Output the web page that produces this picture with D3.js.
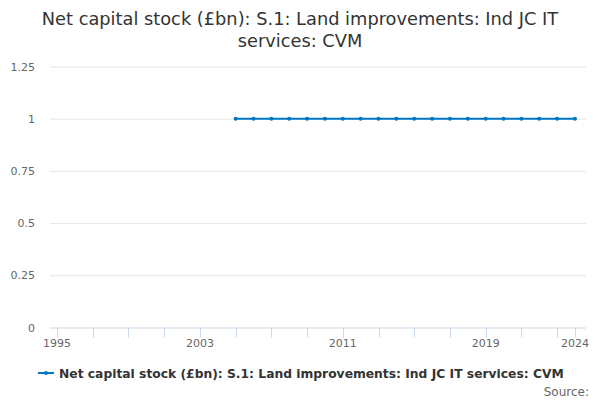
<!DOCTYPE html>
<html><head><meta charset="utf-8">
<script src="https://cdn.jsdelivr.net/npm/d3@7"></script>
<style>body{margin:0;background:#fff;font-family:"DejaVu Sans",sans-serif;}</style>
</head><body>
<svg id="c" width="600" height="400"></svg>
<script>
const years = [2005,2006,2007,2008,2009,2010,2011,2012,2013,2014,2015,2016,2017,2018,2019,2020,2021,2022,2023,2024];
const values = [1,1,1,1,1,1,1,1,1,1,1,1,1,1,1,1,1,1,1,1];
const yTicks = [0,0.25,0.5,0.75,1,1.25];
const xTickYears = [1995,1997,1999,2001,2003,2005,2007,2009,2011,2013,2015,2017,2019,2021,2023,2024];
const xLabelYears = [1995,2003,2011,2019,2024];
const titleLines = ["Net capital stock (£bn): S.1: Land improvements: Ind JC IT", "services: CVM"];
const seriesName = "Net capital stock (£bn): S.1: Land improvements: Ind JC IT services: CVM";

const svg = d3.select("#c");
const plotL = 50, plotR = 586;
const x = d3.scaleLinear().domain([1995,2024]).range([57,575]);
const y = d3.scaleLinear().domain([0,1.25]).range([327.5,66.5]);
const color = "#0077c0";

// title
const t = svg.append("text").attr("x",300).attr("text-anchor","middle")
  .attr("font-size",17.8).attr("fill","#333");
titleLines.forEach((l,i)=>t.append("tspan").attr("x",300).attr("y",25+i*22).text(l));

// grid
svg.append("g").selectAll("line").data(yTicks.filter(d=>d>0)).join("line")
  .attr("x1",plotL).attr("x2",plotR).attr("y1",d=>y(d)+0.5).attr("y2",d=>y(d)+0.5)
  .attr("stroke","#e6e6e6");
svg.append("g").selectAll("text").data(yTicks).join("text")
  .attr("x",35).attr("y",d=>y(d)+4).attr("text-anchor","end")
  .attr("font-size",11).attr("fill","#666").text(d=>d);

// x axis
svg.append("line").attr("x1",plotL).attr("x2",plotR).attr("y1",y(0)+0.5).attr("y2",y(0)+0.5).attr("stroke","#ccd6eb");
svg.append("g").selectAll("line").data(xTickYears).join("line")
  .attr("x1",d=>Math.round(x(d))+0.5).attr("x2",d=>Math.round(x(d))+0.5)
  .attr("y1",y(0)).attr("y2",y(0)+10).attr("stroke","#ccd6eb");
svg.append("g").selectAll("text").data(xLabelYears).join("text")
  .attr("x",d=>x(d)).attr("y",y(0)+19).attr("text-anchor","middle")
  .attr("font-size",11).attr("fill","#666").text(d=>d);

// line
const pts = years.map((yr,i)=>({yr,v:values[i]}));
svg.append("path").datum(pts)
  .attr("d",d3.line().x(d=>x(d.yr)).y(d=>y(d.v)))
  .attr("fill","none").attr("stroke",color).attr("stroke-width",2);
svg.append("g").selectAll("circle").data(pts).join("circle")
  .attr("cx",d=>x(d.yr)).attr("cy",d=>y(d.v)).attr("r",2).attr("fill",color);

// legend
svg.append("line").attr("x1",38).attr("x2",54).attr("y1",373).attr("y2",373).attr("stroke",color).attr("stroke-width",2);
svg.append("circle").attr("cx",46).attr("cy",373).attr("r",2).attr("fill",color);
svg.append("text").attr("x",59).attr("y",377.5).attr("font-size",12.3).attr("font-weight","bold")
  .attr("fill","#333").text(seriesName);

svg.append("text").attr("x",589).attr("y",396).attr("text-anchor","end")
  .attr("font-size",12).attr("fill","#666").text("Source:");
</script>
</body></html>
